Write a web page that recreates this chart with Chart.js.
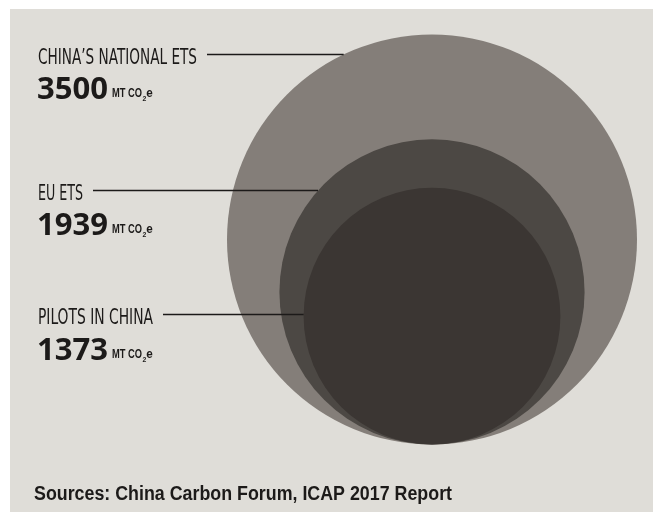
<!DOCTYPE html>
<html>
<head>
<meta charset="utf-8">
<script src="https://cdn.jsdelivr.net/npm/chart.js@4/dist/chart.umd.min.js"></script>
<style>
  html, body { margin: 0; padding: 0; background: #ffffff; }
  #wrap { width: 653px; height: 512px; position: relative; }
</style>
</head>
<body>
<div id="wrap"><canvas id="c"></canvas></div>
<script>
// ---- data ----
const categories = ['CHINA\u2019S NATIONAL ETS', 'EU ETS', 'PILOTS IN CHINA'];
const emissions = [3500, 1939, 1373];          // MtCO2e
const valueLabels = ['3500', '1939', '1373'];
const unitText = ['MT CO', '2', 'e'];
const sourceText = 'Sources: China Carbon Forum, ICAP 2017 Report';

// ---- style / layout ----
const colors = ['#847e79', '#4c4844', '#3b3633'];
const bgColor = '#dfddd8';
const textColor = '#1c1a19';
const W = 653, H = 512;
const centerPx = 432, bottomPx = 444.5, bigRadiusPx = 205;
const labelBase = [63.5, 199.5, 323.5];
const numberBase = [99, 235, 360];
const labelWidth = [159, 45, 115];

// circle radius in data units: area proportional to emissions
const rData = emissions.map(v => Math.sqrt(v / Math.PI));
const k = bigRadiusPx / rData[0]; // pixels per data unit (equal on both axes)

const points = emissions.map((v, i) => ({ x: 0, y: rData[i] }));

function radiusPx(chart, i) {
  const sx = chart.scales && chart.scales.x;
  if (sx && isFinite(sx.getPixelForValue(0))) {
    return Math.abs(sx.getPixelForValue(rData[i]) - sx.getPixelForValue(0));
  }
  return rData[i] * k;
}

function drawFit(ctx, text, x, y, font, width) {
  ctx.save();
  ctx.font = font;
  const w = ctx.measureText(text).width;
  const s = width ? width / w : 1;
  ctx.translate(x, y);
  ctx.scale(s, 1);
  ctx.fillText(text, 0, 0);
  ctx.restore();
  return width ? width : w;
}

const decor = {
  id: 'decor',
  beforeDraw(chart) {
    const ctx = chart.ctx;
    ctx.save();
    ctx.fillStyle = '#ffffff';
    ctx.fillRect(0, 0, W, H);
    ctx.fillStyle = bgColor;
    ctx.fillRect(10, 9, W - 10, H - 9);
    ctx.restore();
  },
  afterDraw(chart) {
    const ctx = chart.ctx;
    const meta = chart.getDatasetMeta(0);
    ctx.save();
    ctx.fillStyle = textColor;
    ctx.strokeStyle = '#1c1a19';
    ctx.textBaseline = 'alphabetic';
    ctx.textAlign = 'left';
    const labelFont = '21px "Liberation Sans Narrow", "DejaVu Sans Condensed", sans-serif';
    categories.forEach((cat, i) => {
      const x0 = 38;
      const lw = drawFit(ctx, cat, x0, labelBase[i], labelFont, labelWidth[i]);
      const el = meta.data[i];
      const r = el.options.radius;
      const ly = labelBase[i] - 9;
      const dy = ly - el.y;
      const xe = el.x - Math.sqrt(Math.max(0, r * r - dy * dy));
      ctx.lineWidth = 1.6;
      ctx.beginPath();
      ctx.moveTo(x0 + lw + 10, ly);
      ctx.lineTo(xe, ly);
      ctx.stroke();
      const nw = drawFit(ctx, valueLabels[i], 37, numberBase[i], 'bold 30px "Open Sans", sans-serif', 71);
      let ux = 37 + nw + 4;
      ux += drawFit(ctx, unitText[0], ux, numberBase[i] - 2, 'bold 12px "Liberation Sans Narrow", sans-serif', 30);
      ux += drawFit(ctx, unitText[1], ux + 0.5, numberBase[i] + 1.5, 'bold 7px "Liberation Sans Narrow", sans-serif', 3.8) + 0.5;
      drawFit(ctx, unitText[2], ux, numberBase[i] - 2, 'bold 12px "Liberation Sans Narrow", sans-serif', 6.5);
    });
    drawFit(ctx, sourceText, 34, 500, 'bold 19.5px "Liberation Sans Narrow", sans-serif', 418);
    ctx.restore();
  }
};

new Chart(document.getElementById('c'), {
  type: 'bubble',
  data: {
    datasets: [{
      data: points,
      backgroundColor: colors,
      borderWidth: 0,
      clip: false,
      radius: (c) => radiusPx(c.chart, c.dataIndex)
    }]
  },
  options: {
    responsive: true,
    maintainAspectRatio: false,
    animation: false,
    events: [],
    layout: { padding: 0, autoPadding: false },
    plugins: { legend: { display: false }, tooltip: { enabled: false } },
    scales: {
      x: { display: false, min: -centerPx / k, max: (W - centerPx) / k },
      y: { display: false, min: -(H - bottomPx) / k, max: bottomPx / k }
    }
  },
  plugins: [decor]
});
</script>
</body>
</html>
